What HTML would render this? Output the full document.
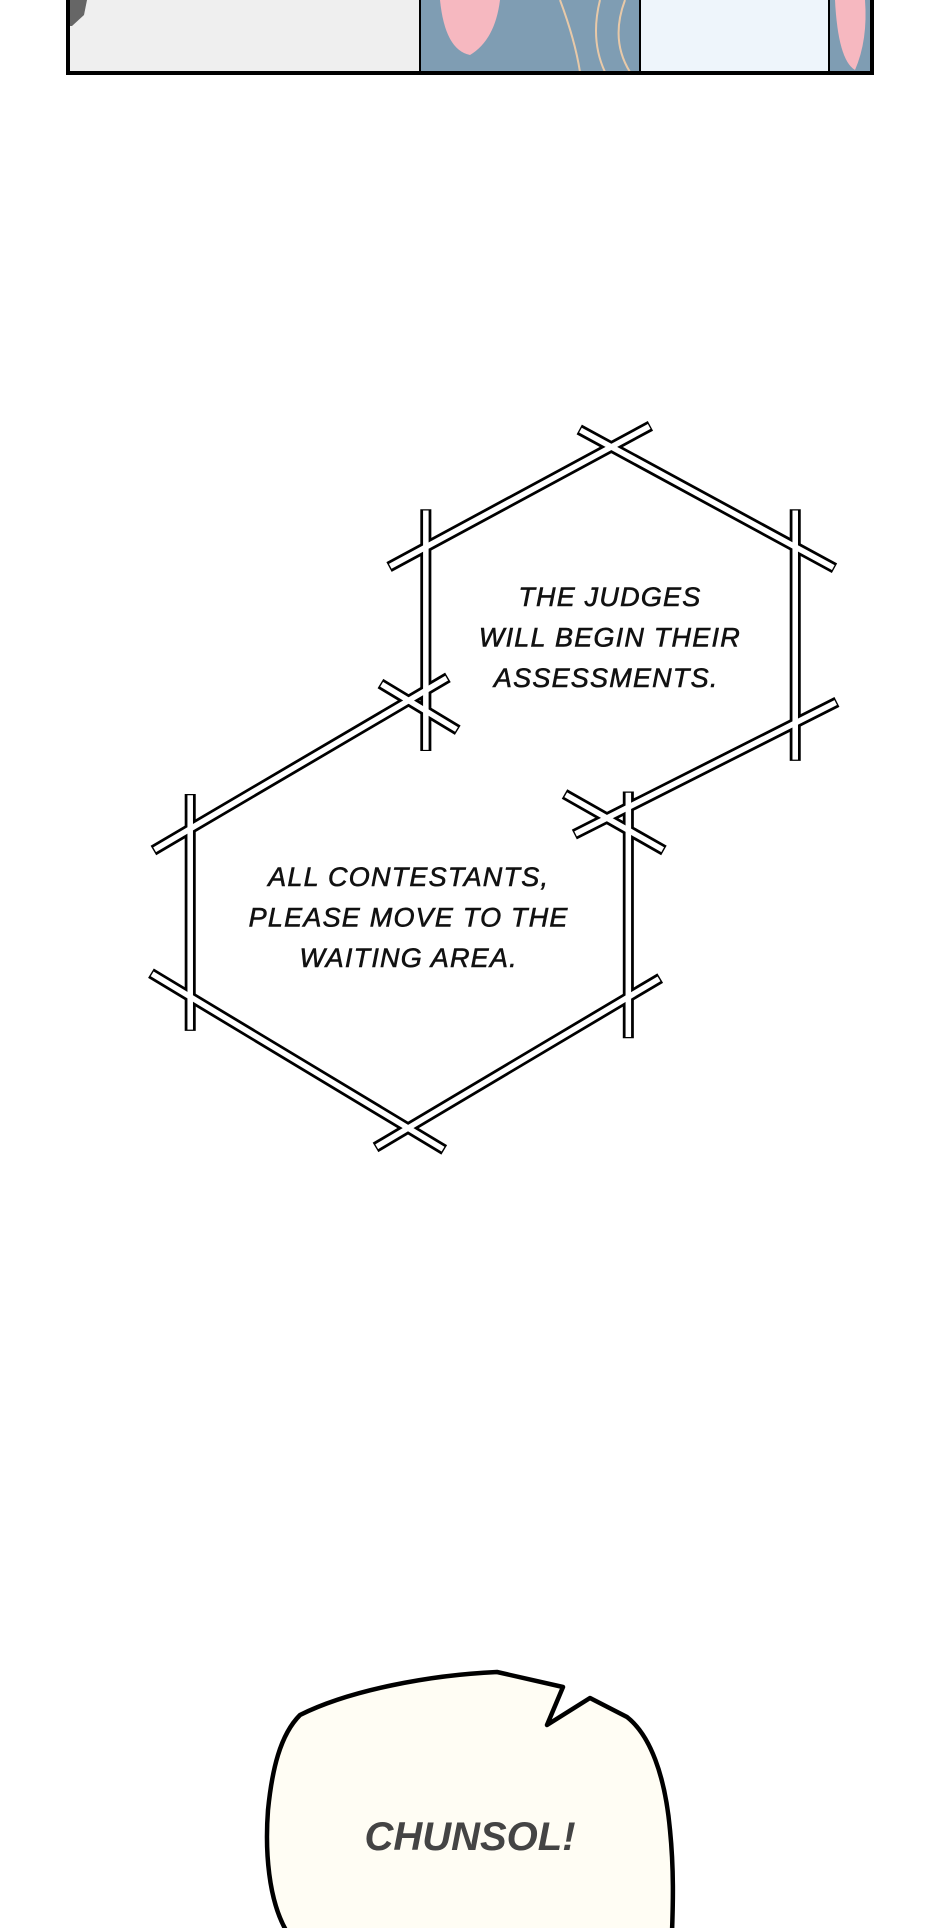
<!DOCTYPE html>
<html><head><meta charset="utf-8"><style>
html,body{margin:0;padding:0;background:#fff;}
body{width:940px;height:1928px;overflow:hidden;position:relative;}
svg{position:absolute;left:0;top:0;}
</style></head><body>
<svg width="940" height="1928" viewBox="0 0 940 1928" xmlns="http://www.w3.org/2000/svg">
  <rect x="67" y="0" width="353" height="72" fill="#efefef"/>
  <rect x="420" y="0" width="220" height="72" fill="#7f9db3"/>
  <rect x="640" y="0" width="189" height="72" fill="#eef5fb"/>
  <rect x="829" y="0" width="42" height="72" fill="#7f9db3"/>
  <path d="M440 0 Q445 50 470 55 Q495 40 500 0Z" fill="#f6b8c0"/>
  <path d="M835 0 Q838 60 855 70 Q868 40 865 0Z" fill="#f6b8c0"/>
  <path d="M560 0 Q575 40 580 72 M600 0 Q590 40 605 72 M625 0 Q610 40 630 72" stroke="#e8c9a8" stroke-width="2" fill="none"/>
  <path d="M67 0 L87 0 L84 15 L72 26 L67 26Z" fill="#666"/>
  <line x1="420" y1="0" x2="420" y2="72" stroke="#000" stroke-width="2"/>
  <line x1="640" y1="0" x2="640" y2="72" stroke="#000" stroke-width="2"/>
  <line x1="829" y1="0" x2="829" y2="72" stroke="#000" stroke-width="2"/>
  <path d="M68 0 V73 H872 V0" fill="none" stroke="#000" stroke-width="4"/>

  <g transform="scale(1.2272)">
    <g stroke="#000" stroke-width="9" fill="none">
      <line x1="317" y1="462" x2="530" y2="347"/>
      <line x1="472" y1="350" x2="680" y2="463"/>
      <line x1="347" y1="415" x2="347" y2="612"/>
      <line x1="648" y1="415" x2="648" y2="620"/>
      <line x1="468" y1="680" x2="682" y2="572"/>
      <line x1="310" y1="557" x2="373" y2="595"/>
      <line x1="125" y1="693" x2="365" y2="552"/>
      <line x1="155" y1="647" x2="155" y2="840"/>
      <line x1="123" y1="793" x2="362" y2="937"/>
      <line x1="306" y1="935" x2="538" y2="797"/>
      <line x1="512" y1="645" x2="512" y2="846"/>
      <line x1="460" y1="647" x2="541" y2="693"/>
    </g>
    <g stroke="#fff" stroke-width="4.5" fill="none">
      <line x1="318" y1="461.5" x2="529" y2="347.5"/>
      <line x1="473" y1="350.5" x2="679" y2="462.5"/>
      <line x1="347" y1="416" x2="347" y2="611"/>
      <line x1="648" y1="416" x2="648" y2="619"/>
      <line x1="469" y1="679.5" x2="681" y2="572.5"/>
      <line x1="311" y1="557.6" x2="372" y2="594.4"/>
      <line x1="126" y1="692.4" x2="364" y2="552.6"/>
      <line x1="155" y1="648" x2="155" y2="839"/>
      <line x1="124" y1="793.6" x2="361" y2="936.4"/>
      <line x1="307" y1="934.4" x2="537" y2="797.6"/>
      <line x1="512" y1="646" x2="512" y2="845"/>
      <line x1="461" y1="647.6" x2="540" y2="692.4"/>
    </g>
    <g font-family="'Liberation Sans',sans-serif" font-style="italic" font-size="22" fill="#111" stroke="#111" stroke-width="0.5" text-anchor="middle" letter-spacing="1">
      <text x="497" y="494">THE JUDGES</text>
      <text x="497" y="527">WILL BEGIN THEIR</text>
      <text x="494" y="560">ASSESSMENTS.</text>
      <text x="333" y="722">ALL CONTESTANTS,</text>
      <text x="333" y="755">PLEASE MOVE TO THE</text>
      <text x="333" y="788">WAITING AREA.</text>
    </g>
  </g>

  <path d="M287 1932 C268 1900 265 1850 268 1810 C272 1770 280 1735 300 1715 C350 1690 430 1675 497 1672 L563 1687 L547 1725 L590 1698 L627 1717 C650 1735 665 1775 670 1830 C674 1870 673 1905 672 1932 Z" fill="#fffdf4" stroke="#000" stroke-width="4.5" stroke-linejoin="round"/>
  <text x="470" y="1850" text-anchor="middle" font-family="'Liberation Sans',sans-serif" font-style="italic" font-weight="bold" font-size="40" fill="#444">CHUNSOL!</text>
</svg>
</body></html>
